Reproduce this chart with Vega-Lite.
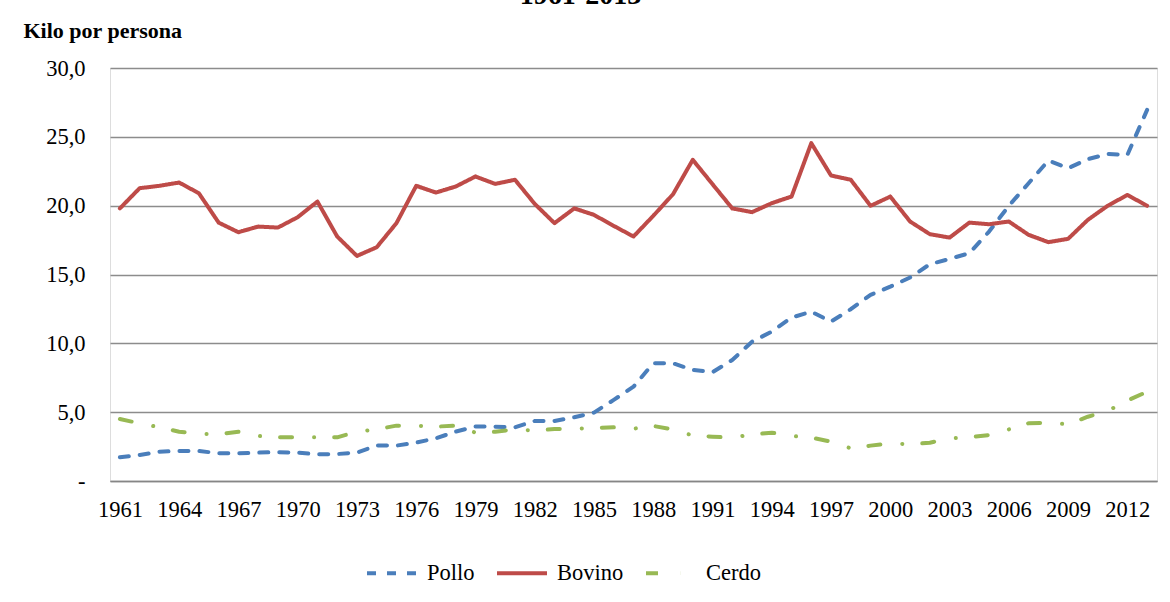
{
  "$schema": "https://vega.github.io/schema/vega-lite/v6.json",
  "width": 1047,
  "height": 413,
  "autosize": {"type": "none"},
  "padding": {"left": 110, "top": 68, "right": 13, "bottom": 121},
  "background": "white",
  "title": {"text": "1961-2013", "font": "Liberation Serif", "fontSize": 28, "fontWeight": "bold", "color": "black", "anchor": "middle", "dx": -53, "offset": 9},
  "data": {"values": [
    {"year": 1961, "Pollo": 1.72, "Bovino": 19.80, "Cerdo": 4.50},
    {"year": 1962, "Pollo": 1.89, "Bovino": 21.27, "Cerdo": 4.19},
    {"year": 1963, "Pollo": 2.13, "Bovino": 21.44, "Cerdo": 3.90},
    {"year": 1964, "Pollo": 2.18, "Bovino": 21.68, "Cerdo": 3.58},
    {"year": 1965, "Pollo": 2.18, "Bovino": 20.90, "Cerdo": 3.42},
    {"year": 1966, "Pollo": 2.01, "Bovino": 18.77, "Cerdo": 3.40},
    {"year": 1967, "Pollo": 2.01, "Bovino": 18.07, "Cerdo": 3.58},
    {"year": 1968, "Pollo": 2.06, "Bovino": 18.48, "Cerdo": 3.27},
    {"year": 1969, "Pollo": 2.10, "Bovino": 18.41, "Cerdo": 3.17},
    {"year": 1970, "Pollo": 2.06, "Bovino": 19.16, "Cerdo": 3.17},
    {"year": 1971, "Pollo": 1.94, "Bovino": 20.30, "Cerdo": 3.17},
    {"year": 1972, "Pollo": 1.96, "Bovino": 17.76, "Cerdo": 3.17},
    {"year": 1973, "Pollo": 2.06, "Bovino": 16.35, "Cerdo": 3.58},
    {"year": 1974, "Pollo": 2.57, "Bovino": 16.98, "Cerdo": 3.75},
    {"year": 1975, "Pollo": 2.57, "Bovino": 18.73, "Cerdo": 4.02},
    {"year": 1976, "Pollo": 2.79, "Bovino": 21.44, "Cerdo": 4.02},
    {"year": 1977, "Pollo": 3.10, "Bovino": 20.95, "Cerdo": 3.95},
    {"year": 1978, "Pollo": 3.59, "Bovino": 21.39, "Cerdo": 4.02},
    {"year": 1979, "Pollo": 3.95, "Bovino": 22.12, "Cerdo": 3.51},
    {"year": 1980, "Pollo": 3.95, "Bovino": 21.58, "Cerdo": 3.58},
    {"year": 1981, "Pollo": 3.90, "Bovino": 21.88, "Cerdo": 3.75},
    {"year": 1982, "Pollo": 4.36, "Bovino": 20.13, "Cerdo": 3.66},
    {"year": 1983, "Pollo": 4.36, "Bovino": 18.73, "Cerdo": 3.78},
    {"year": 1984, "Pollo": 4.63, "Bovino": 19.80, "Cerdo": 3.80},
    {"year": 1985, "Pollo": 4.97, "Bovino": 19.33, "Cerdo": 3.85},
    {"year": 1986, "Pollo": 5.89, "Bovino": 18.53, "Cerdo": 3.90},
    {"year": 1987, "Pollo": 6.85, "Bovino": 17.76, "Cerdo": 3.80},
    {"year": 1988, "Pollo": 8.55, "Bovino": 19.26, "Cerdo": 4.00},
    {"year": 1989, "Pollo": 8.55, "Bovino": 20.83, "Cerdo": 3.75},
    {"year": 1990, "Pollo": 8.07, "Bovino": 23.33, "Cerdo": 3.30},
    {"year": 1991, "Pollo": 7.90, "Bovino": 21.56, "Cerdo": 3.22},
    {"year": 1992, "Pollo": 8.79, "Bovino": 19.80, "Cerdo": 3.15},
    {"year": 1993, "Pollo": 10.12, "Bovino": 19.53, "Cerdo": 3.39},
    {"year": 1994, "Pollo": 10.85, "Bovino": 20.18, "Cerdo": 3.51},
    {"year": 1995, "Pollo": 11.87, "Bovino": 20.66, "Cerdo": 3.27},
    {"year": 1996, "Pollo": 12.30, "Bovino": 24.54, "Cerdo": 3.15},
    {"year": 1997, "Pollo": 11.58, "Bovino": 22.19, "Cerdo": 2.86},
    {"year": 1998, "Pollo": 12.48, "Bovino": 21.88, "Cerdo": 2.37},
    {"year": 1999, "Pollo": 13.52, "Bovino": 19.99, "Cerdo": 2.57},
    {"year": 2000, "Pollo": 14.12, "Bovino": 20.66, "Cerdo": 2.74},
    {"year": 2001, "Pollo": 14.78, "Bovino": 18.85, "Cerdo": 2.66},
    {"year": 2002, "Pollo": 15.75, "Bovino": 17.93, "Cerdo": 2.78},
    {"year": 2003, "Pollo": 16.13, "Bovino": 17.68, "Cerdo": 3.10},
    {"year": 2004, "Pollo": 16.55, "Bovino": 18.77, "Cerdo": 3.17},
    {"year": 2005, "Pollo": 18.12, "Bovino": 18.65, "Cerdo": 3.34},
    {"year": 2006, "Pollo": 19.99, "Bovino": 18.85, "Cerdo": 3.75},
    {"year": 2007, "Pollo": 21.63, "Bovino": 17.88, "Cerdo": 4.19},
    {"year": 2008, "Pollo": 23.28, "Bovino": 17.35, "Cerdo": 4.24},
    {"year": 2009, "Pollo": 22.72, "Bovino": 17.59, "Cerdo": 4.12},
    {"year": 2010, "Pollo": 23.38, "Bovino": 18.97, "Cerdo": 4.67},
    {"year": 2011, "Pollo": 23.76, "Bovino": 19.99, "Cerdo": 5.09},
    {"year": 2012, "Pollo": 23.69, "Bovino": 20.78, "Cerdo": 5.84},
    {"year": 2013, "Pollo": 26.96, "Bovino": 19.99, "Cerdo": 6.49}
  ]},
  "transform": [{"fold": ["Pollo", "Bovino", "Cerdo"], "as": ["serie", "valor"]}],
  "mark": {"type": "line", "strokeWidth": 4, "strokeCap": "round", "strokeJoin": "round"},
  "encoding": {
    "x": {
      "field": "year", "type": "ordinal",
      "scale": {"type": "point", "padding": 0.5},
      "axis": {
        "title": null, "labelAngle": 0, "ticks": false,
        "values": [1961, 1964, 1967, 1970, 1973, 1976, 1979, 1982, 1985, 1988, 1991, 1994, 1997, 2000, 2003, 2006, 2009, 2012],
        "labelFont": "Liberation Serif", "labelFontSize": 22.5, "labelColor": "black",
        "labelPadding": 17, "domainColor": "#868686", "domainWidth": 1.5, "grid": false
      }
    },
    "y": {
      "field": "valor", "type": "quantitative",
      "scale": {"domain": [0, 30], "nice": false},
      "axis": {
        "values": [0, 5, 10, 15, 20, 25, 30],
        "labelExpr": "datum.value == 0 ? '-\u00a0\u00a0\u00a0' : replace(format(datum.value, '.1f'), '.', ',')",
        "labelFont": "Liberation Serif", "labelFontSize": 22.5, "labelColor": "black",
        "labelPadding": 25, "ticks": false, "domain": false,
        "grid": true, "gridColor": "#8c8c8c", "gridWidth": 1.3,
        "title": "Kilo por persona", "titleAngle": 0, "titleAlign": "left", "titleBaseline": "alphabetic",
        "titleX": -87, "titleY": -31, "titleFont": "Liberation Serif", "titleFontSize": 22,
        "titleFontWeight": "bold", "titleColor": "black"
      }
    },
    "color": {
      "field": "serie", "type": "nominal",
      "scale": {"domain": ["Pollo", "Bovino", "Cerdo"], "range": ["#4a7ebb", "#be4b48", "#98b954"]},
      "legend": {
        "orient": "none", "legendX": 255, "legendY": 478, "direction": "horizontal", "title": null,
        "symbolType": "stroke", "symbolSize": 2500, "symbolStrokeWidth": 4,
        "labelFont": "Liberation Serif", "labelFontSize": 22.5, "labelColor": "black",
        "labelOffset": 8, "columnPadding": 14
      }
    },
    "strokeDash": {
      "field": "serie", "type": "nominal",
      "scale": {"domain": ["Pollo", "Bovino", "Cerdo"], "range": [[9, 11], [1, 0], [12, 22, 0.1, 20]]},
      "legend": null
    }
  }
}
